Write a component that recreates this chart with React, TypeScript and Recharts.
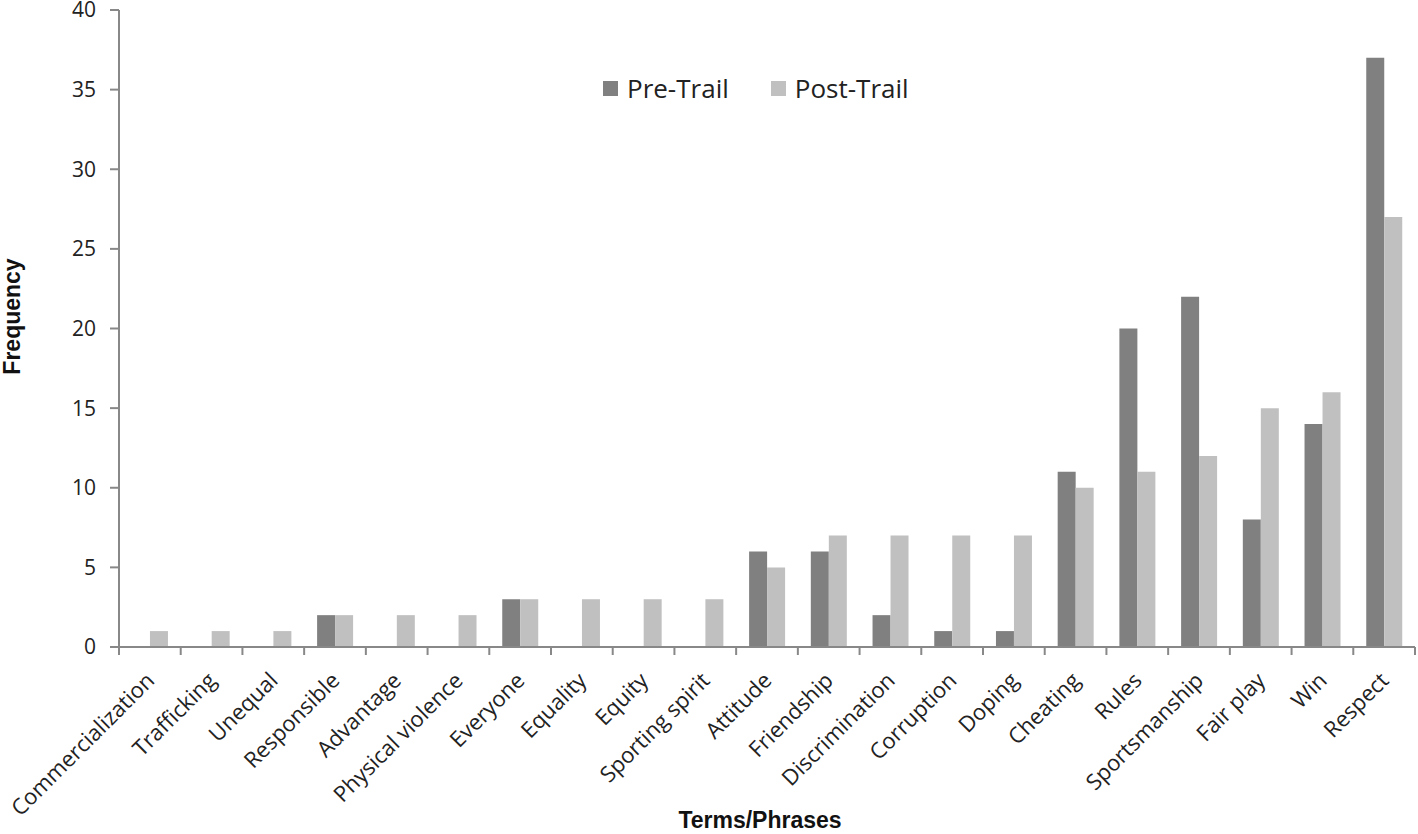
import React from 'react'
import { BarChart, Bar, XAxis, YAxis, Legend, Label } from 'recharts'

const terms = [
  'Commercialization', 'Trafficking', 'Unequal', 'Responsible', 'Advantage',
  'Physical violence', 'Everyone', 'Equality', 'Equity', 'Sporting spirit',
  'Attitude', 'Friendship', 'Discrimination', 'Corruption', 'Doping',
  'Cheating', 'Rules', 'Sportsmanship', 'Fair play', 'Win', 'Respect',
]
const preTrail = [0, 0, 0, 2, 0, 0, 3, 0, 0, 0, 6, 6, 2, 1, 1, 11, 20, 22, 8, 14, 37]
const postTrail = [1, 1, 1, 2, 2, 2, 3, 3, 3, 3, 5, 7, 7, 7, 7, 10, 11, 12, 15, 16, 27]
const yTicks = [0, 5, 10, 15, 20, 25, 30, 35, 40]
const seriesNames = ['Pre-Trail', 'Post-Trail']
const seriesColors = ['#808080', '#c0c0c0']

const data = terms.map((t, i) => ({ term: t, pre: preTrail[i], post: postTrail[i] }))

const W = 1418
const H = 834
const LEFT = 119
const RIGHT = 3
const step = (W - LEFT - RIGHT) / terms.length
const font = '"Open Sans", sans-serif'
const boldFont = 'Arial, "Liberation Sans", sans-serif'

const TermTick = (props: any) => {
  const { x, y, payload, index } = props
  const bx = x - step / 2
  const tx = x - 5
  const ty = y + 16
  return (
    <g>
      <line x1={bx} y1={y - 8} x2={bx} y2={y} stroke="#888" strokeWidth={2} />
      {index === terms.length - 1 && (
        <line x1={x + step / 2} y1={y - 8} x2={x + step / 2} y2={y} stroke="#888" strokeWidth={2} />
      )}
      <text
        x={tx}
        y={ty}
        textAnchor="end"
        dy="0.7em"
        fontSize={22}
        fontFamily={font}
        fill="#222"
        transform={`rotate(-45 ${tx} ${ty})`}
      >
        {payload.value}
      </text>
    </g>
  )
}

const LegendBox = () => (
  <div style={{ display: 'flex', alignItems: 'center', fontFamily: font, fontSize: 26, color: '#222' }}>
    {seriesNames.map((n, i) => (
      <div key={n} style={{ display: 'flex', alignItems: 'center', marginRight: 42 }}>
        <span style={{ display: 'inline-block', width: 15, height: 15, background: seriesColors[i], marginRight: 9 }} />
        <span>{n}</span>
      </div>
    ))}
  </div>
)

export default function App() {
  return (
    <div style={{ position: 'absolute', left: 0, top: 0, background: '#fff' }}>
      <BarChart
        width={W}
        height={H}
        data={data}
        margin={{ top: 10, right: RIGHT, left: 0, bottom: 0 }}
        barCategoryGap="21%"
        barGap={0}
      >
        <XAxis
          dataKey="term"
          interval={0}
          height={187}
          tickLine={false}
          tick={<TermTick />}
          axisLine={{ stroke: '#888', strokeWidth: 2 }}
        >
          <Label
            value="Terms/Phrases"
            position="insideBottom"
            offset={6}
            dx={-7}
            style={{ fontFamily: boldFont, fontWeight: 'bold', fontSize: 23, fill: '#111' }}
          />
        </XAxis>
        <YAxis
          width={LEFT}
          domain={[0, 40]}
          ticks={yTicks}
          interval={0}
          tickSize={9}
          tickMargin={14}
          tickLine={{ stroke: '#888', strokeWidth: 2 }}
          axisLine={{ stroke: '#888', strokeWidth: 2 }}
          tick={{ fontSize: 21, fontFamily: font, fill: '#222' }}
        >
          <Label
            value="Frequency"
            angle={-90}
            position="insideLeft"
            offset={12}
            dy={-12}
            style={{ fontFamily: boldFont, fontWeight: 'bold', fontSize: 23, fill: '#111', textAnchor: 'middle' }}
          />
        </YAxis>
        <Legend
          verticalAlign="middle"
          align="center"
          content={<LegendBox />}
          wrapperStyle={{ top: 70, left: 603, width: 380 }}
        />
        <Bar dataKey="pre" name={seriesNames[0]} fill={seriesColors[0]} isAnimationActive={false} />
        <Bar dataKey="post" name={seriesNames[1]} fill={seriesColors[1]} isAnimationActive={false} />
      </BarChart>
    </div>
  )
}
